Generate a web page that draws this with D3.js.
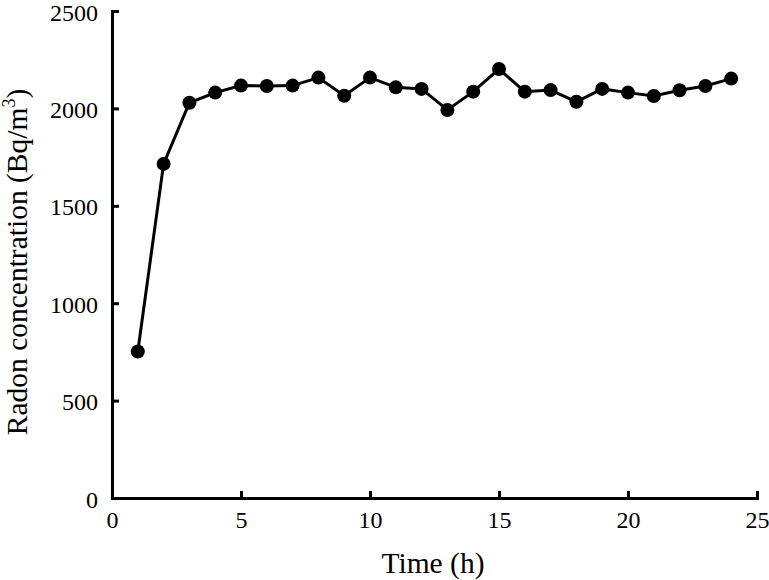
<!DOCTYPE html>
<html>
<head>
<meta charset="utf-8">
<script src="https://cdn.jsdelivr.net/npm/d3@7"></script>
<style>
body { margin: 0; background: #fff; }
.axis text { font-family: "Liberation Serif", "Times New Roman", serif; font-size: 24px; fill: #000; }
.axis path, .axis line { stroke: #000; stroke-width: 3; }
.label { font-family: "Liberation Serif", "Times New Roman", serif; font-size: 29.5px; fill: #000; }
</style>
</head>
<body>
<script>
/* radon readings, one per hour */
var hours = [1, 2, 3, 4, 5, 6, 7, 8, 9, 10, 11, 12, 13, 14, 15, 16, 17, 18, 19, 20, 21, 22, 23, 24]
var radon = [752, 1715, 2029, 2081, 2117, 2115, 2117, 2158, 2065, 2158, 2108, 2100,
             1992, 2086, 2202, 2086, 2094, 2034, 2100, 2081, 2064, 2093, 2115, 2153]
var xTicks = [0, 5, 10, 15, 20, 25]
var yTicks = [0, 500, 1000, 1500, 2000, 2500]

var width = 769, height = 580

var svg = d3.select("body").append("svg")
	.attr("width", width)
	.attr("height", height)

var xScale = d3.scaleLinear().domain([0, 25]).range([112, 757])
var yScale = d3.scaleLinear().domain([0, 2500]).range([498, 11])

var xAxis = d3.axisBottom(xScale).tickValues(xTicks).tickFormat(d3.format("d"))
	.tickSizeInner(-7).tickSizeOuter(0).tickPadding(13)
var yAxis = d3.axisLeft(yScale).tickValues(yTicks).tickFormat(d3.format("d"))
	.tickSizeInner(-7).tickSizeOuter(0).tickPadding(14)

svg.append("g")
	.attr("class", "axis")
	.attr("transform", "translate(0," + yScale(0) + ")")
	.call(xAxis)

svg.append("g")
	.attr("class", "axis")
	.attr("transform", "translate(" + xScale(0) + ",0)")
	.call(yAxis)
	.selectAll("text")
	.attr("dy", "0.38em")

svg.selectAll(".axis .domain").attr("stroke-linecap", "square")

var data = hours.map(function(h, i){ return {hour: h, value: radon[i]} })

var line = d3.line()
	.x(function(d){ return xScale(d.hour) })
	.y(function(d){ return yScale(d.value) })

svg.append("path")
	.datum(data)
	.attr("d", line)
	.attr("fill", "none")
	.attr("stroke", "#000")
	.attr("stroke-width", 3)

svg.selectAll(".dot")
	.data(data)
	.enter()
	.append("circle")
	.attr("class", "dot")
	.attr("cx", function(d){ return xScale(d.hour) })
	.attr("cy", function(d){ return yScale(d.value) })
	.attr("r", 7)
	.attr("fill", "#000")

// axis titles
svg.append("text")
	.attr("class", "label")
	.attr("x", 433)
	.attr("y", 573)
	.attr("text-anchor", "middle")
	.text("Time (h)")

var yLabel = svg.append("text")
	.attr("class", "label")
	.attr("text-anchor", "middle")
	.attr("transform", "translate(27, 262) rotate(-90)")

yLabel.append("tspan").text("Radon concentration (Bq/m")
yLabel.append("tspan").attr("font-size", "18px").attr("dy", "-12").text("3")
yLabel.append("tspan").attr("dy", "12").text(")")
</script>
</body>
</html>
